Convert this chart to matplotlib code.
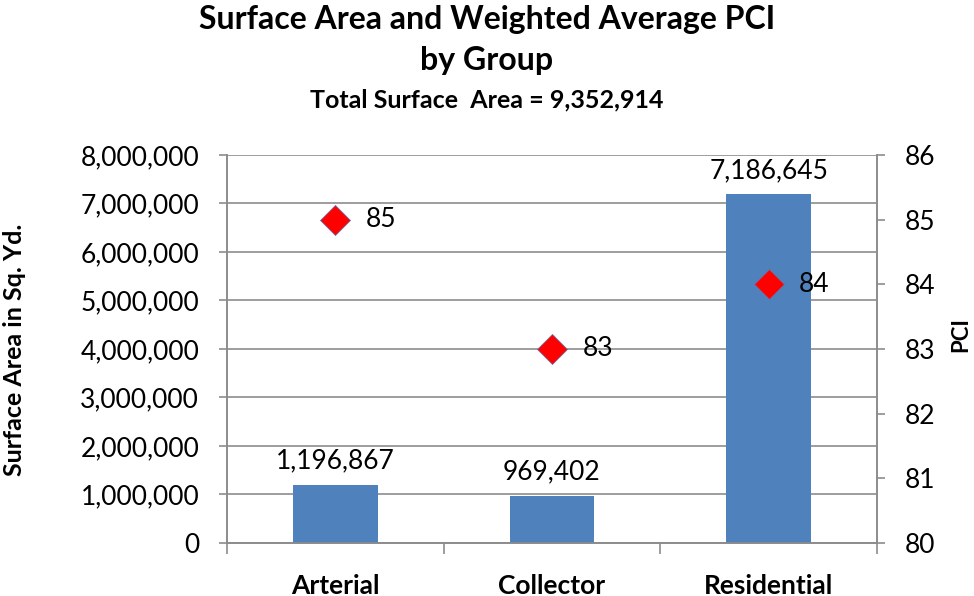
import matplotlib.pyplot as plt
from matplotlib.ticker import FuncFormatter, MultipleLocator

plt.rcParams['font.family'] = ['Lato', 'DejaVu Sans']

# data
groups = ['Arterial', 'Collector', 'Residential']
area = [1196867, 969402, 7186645]
pci = [85, 83, 84]
total_area = 9352914

bar_color = '#4F81BD'
grid_color = '#8C8C8C'

fig = plt.figure(figsize=(9.74, 5.96), dpi=100)
ax = fig.add_axes([0.233, 0.089, 0.6674, 0.651])
ax2 = ax.twinx()

x = range(len(groups))
ax.bar(x, area, width=0.39, color=bar_color, zorder=3)
for i, v in enumerate(area):
    ax.text(i, v + 230000, f'{v:,}', ha='center', va='bottom', fontsize=19, color='black')

ax.set_xlim(-0.5, 2.5)
ax.set_ylim(0, 8000000)
ax.yaxis.set_major_locator(MultipleLocator(1000000))
ax.yaxis.set_major_formatter(FuncFormatter(lambda v, p: f'{int(v):,}'))
ax.grid(axis='y', color=grid_color, linewidth=1.2, zorder=0)
ax.set_axisbelow(True)

ax.set_xticks(list(x))
ax.set_xticklabels(groups, fontsize=19, fontweight='bold')
ax.set_xticks([-0.5, 0.5, 1.5, 2.5], minor=True)
ax.tick_params(axis='x', which='major', length=0, pad=22)
ax.tick_params(axis='x', which='minor', length=8, color=grid_color, width=1.2)
ax.tick_params(axis='y', labelsize=19, length=6, color=grid_color, width=1.2, pad=14)

ax2.plot(list(x), pci, linestyle='none', marker='D', markersize=15,
         markerfacecolor='red', markeredgecolor='#6F6FA0', markeredgewidth=0.6, zorder=4)
for i, v in enumerate(pci):
    ax2.text(i + 0.14, v, f'{v}', ha='left', va='center', fontsize=19, color='black')
ax2.set_ylim(80, 86)
ax2.yaxis.set_major_locator(MultipleLocator(1))
ax2.tick_params(axis='y', labelsize=19, length=6, color=grid_color, width=1.2, pad=14)

for a in (ax, ax2):
    for s in a.spines.values():
        s.set_color(grid_color)
        s.set_linewidth(1.2)
    a.spines['top'].set_visible(False)

# axis titles
fig.text(15 / 974, 0.413, 'Surface Area in Sq. Yd.', rotation=90, ha='center', va='center',
         fontsize=18, fontweight='bold')
fig.text(961 / 974, 0.438, 'PCI', rotation=90, ha='center', va='center',
         fontsize=16, fontweight='bold')

fig.text(0.5, 0.968, 'Surface Area and Weighted Average PCI', ha='center', va='center',
         fontsize=23, fontweight='bold')
fig.text(0.5, 0.898, 'by Group', ha='center', va='center', fontsize=23, fontweight='bold')
fig.text(0.5, 0.832, f'Total Surface  Area = {total_area:,}', ha='center', va='center',
         fontsize=18, fontweight='bold')

fig.savefig('out.png', dpi=100)
